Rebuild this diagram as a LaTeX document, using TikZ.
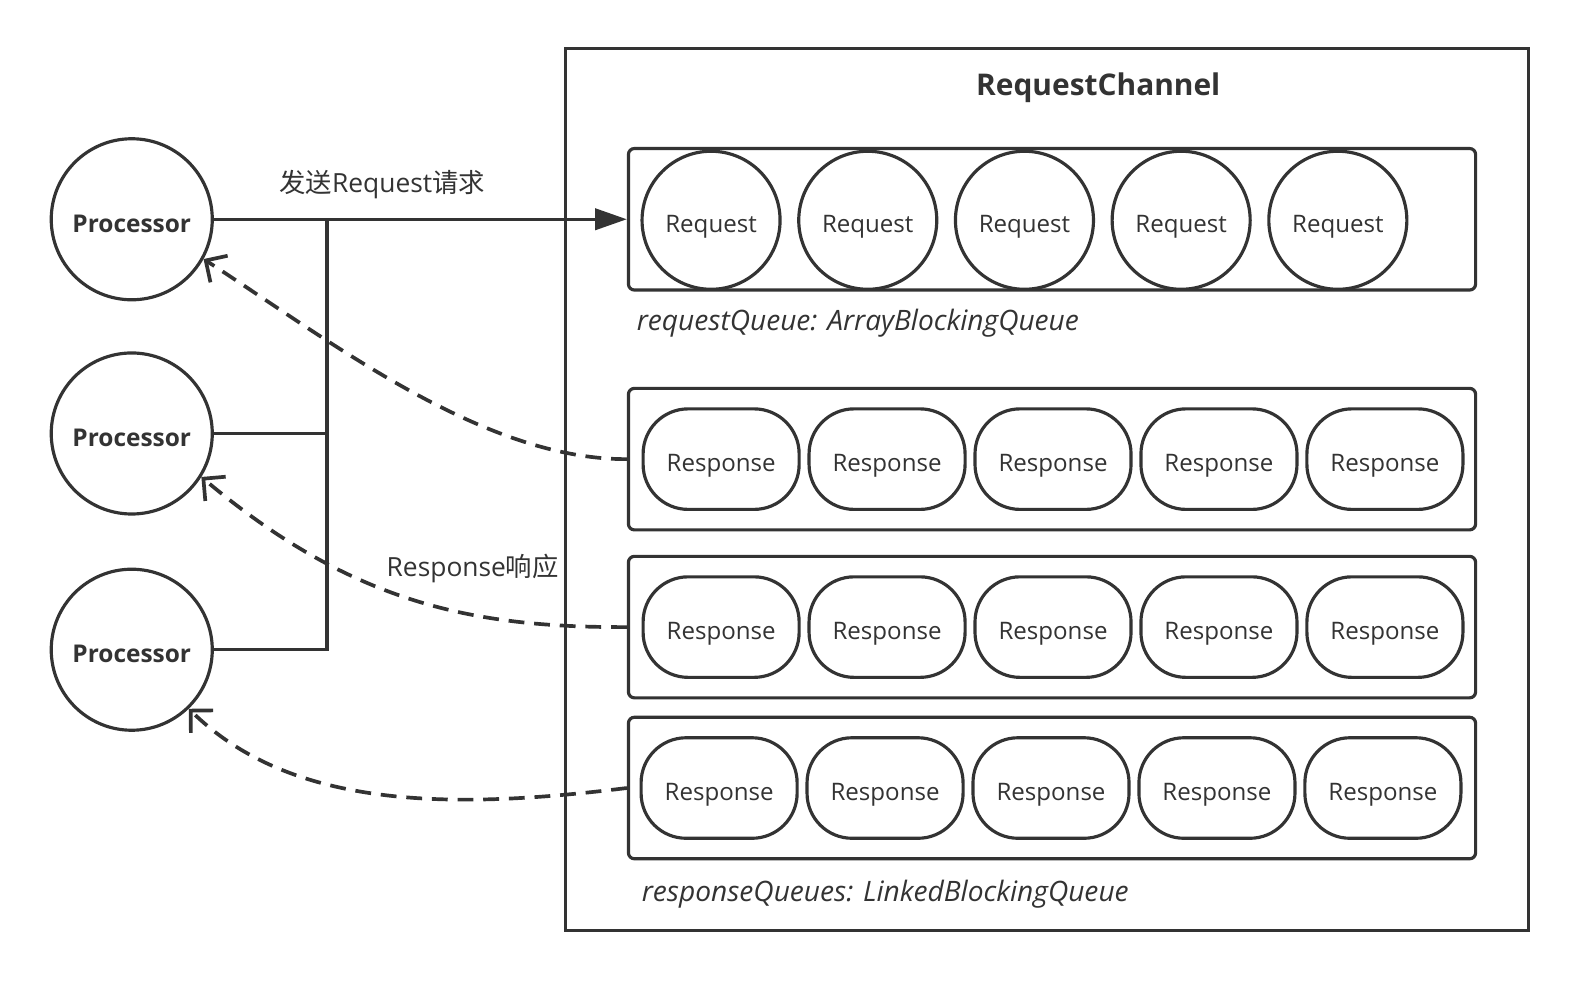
\documentclass[tikz,border=0pt]{standalone}
\usepackage{fontspec}
\setmainfont{Open Sans}
\newfontfamily\cjk{Noto Sans CJK SC}
\usepackage{xcolor}
\definecolor{darkgray_line}{RGB}{51,51,51}
\usepackage{tikz}
\usetikzlibrary{calc,arrows.meta,positioning}

\begin{document}
\begin{tikzpicture}
[	x=0.02011cm, y=-0.02011cm,
	every node/.style = {text=darkgray_line, font=\fontsize{13.7}{16}\selectfont},
	processor/.style = {circle, draw=darkgray_line, line width=1.8pt, minimum size=3.22cm, inner sep=0, text height=14.8pt, text depth=0pt, font=\fontsize{13.9}{16}\selectfont\bfseries},
	reqitem/.style = {circle, draw=darkgray_line, line width=1.8pt, minimum size=2.76cm, inner sep=0, text height=14.4pt, text depth=0pt},
	respitem/.style = {rectangle, rounded corners=0.9cm, draw=darkgray_line, line width=1.8pt, minimum width=3.12cm, minimum height=2.01cm, inner sep=0, text height=14.4pt, text depth=0pt},
	queuebox/.style = {rectangle, rounded corners=0.12cm, draw=darkgray_line, line width=1.8pt, minimum width=16.94cm, minimum height=2.83cm, inner sep=0},
	queuelabel/.style = {anchor=west, font=\fontsize{16}{19}\selectfont\itshape},
	wire/.style = {draw=darkgray_line, line width=2pt},
	reply/.style = {wire, line width=2.1pt, dash pattern=on 9pt off 5.6pt, -{Straight Barb[length=9pt,width=18pt]}}
]
\useasboundingbox (0,0) rectangle (1568,976);

% channel and queues
\node[rectangle, draw=darkgray_line, line width=1.8pt, minimum width=19.27cm, minimum height=17.64cm, inner sep=0] (channel) at (1041,486.5) {};
\node[font=\fontsize{17}{20}\selectfont\bfseries] (title) at (1092,87) {RequestChannel};

\node[queuebox] (reqq) at (1046,218) {};
\node[queuebox] (respq1) at (1046,456.5) {};
\node[queuebox] (respq2) at (1046,623.5) {};
\node[queuebox] (respq3) at (1046,783.5) {};

\node[queuelabel] (reqlabel) at (627,321) {requestQueue: ArrayBlockingQueue};
\node[queuelabel] (resplabel) at (632,889) {responseQueues: LinkedBlockingQueue};

% request items
\node[reqitem] (req1) at (707,219) {Request};
\node[reqitem, right=0.31cm of req1] (req2) {Request};
\node[reqitem, right=0.31cm of req2] (req3) {Request};
\node[reqitem, right=0.31cm of req3] (req4) {Request};
\node[reqitem, right=0.31cm of req4] (req5) {Request};

% response items
\node[respitem] (ra1) at (717,456.5) {Response};
\node[respitem, right=0.135cm of ra1] (ra2) {Response};
\node[respitem, right=0.135cm of ra2] (ra3) {Response};
\node[respitem, right=0.135cm of ra3] (ra4) {Response};
\node[respitem, right=0.135cm of ra4] (ra5) {Response};

\node[respitem] (rb1) at (717,623.5) {Response};
\node[respitem, right=0.135cm of rb1] (rb2) {Response};
\node[respitem, right=0.135cm of rb2] (rb3) {Response};
\node[respitem, right=0.135cm of rb3] (rb4) {Response};
\node[respitem, right=0.135cm of rb4] (rb5) {Response};

\node[respitem] (rc1) at (715,783.5) {Response};
\node[respitem, right=0.135cm of rc1] (rc2) {Response};
\node[respitem, right=0.135cm of rc2] (rc3) {Response};
\node[respitem, right=0.135cm of rc3] (rc4) {Response};
\node[respitem, right=0.135cm of rc4] (rc5) {Response};

% processors
\node[processor] (proc1) at (131,218) {Processor};
\node[processor] (proc2) at (131,431) {Processor};
\node[processor] (proc3) at (131,646) {Processor};

\coordinate (bustop) at (325,218);

\draw[wire, -{Triangle[length=18pt,width=12pt]}] (proc1.east) -- (reqq.west);
\draw[wire] (proc3.east) -| (bustop);
\draw[wire] (proc2.east) -- (proc2.east -| bustop);

\node[font=\fontsize{15}{18}\selectfont] (sendlabel) at (380,183) {{\cjk 发送}Request{\cjk 请求}};
\node[font=\fontsize{15}{18}\selectfont] (resplbl) at (470,565) {Response{\cjk 响应}};

\draw[reply] (respq1.west) .. controls (480,457) and (330,340) .. (proc1.-29);
\draw[reply] (respq2.west) .. controls (470,624) and (350,600) .. (proc2.-32);
\draw[reply] (respq3.west) .. controls (450,805) and (290,805) .. (proc3.-46);

\end{tikzpicture}
\end{document}
